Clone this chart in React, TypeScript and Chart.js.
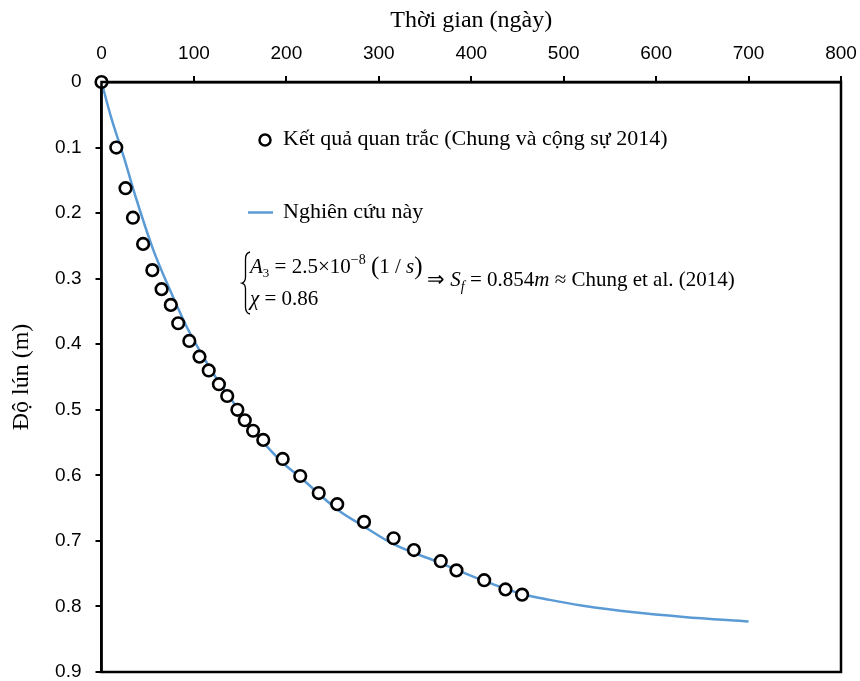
import React, { useEffect, useRef } from "react";
import { Chart, registerables } from "chart.js";

Chart.register(...registerables);

// Observed data (Chung et al. 2014)
const obsTime = [0, 16, 26, 34, 45, 55, 65, 75, 83, 95, 106, 116, 127, 136, 147, 155, 164, 175, 196, 215, 235, 255, 284, 316, 338, 367, 384, 414, 437, 455];
const obsSettle = [0, 0.1, 0.162, 0.207, 0.247, 0.287, 0.316, 0.34, 0.368, 0.395, 0.419, 0.44, 0.461, 0.479, 0.5, 0.516, 0.532, 0.546, 0.575, 0.601, 0.627, 0.644, 0.671, 0.696, 0.714, 0.731, 0.745, 0.76, 0.774, 0.782];

// This study (model curve)
const modelTime = [0, 10, 24, 38, 56, 74, 92, 110, 128, 146, 164, 193, 215, 255, 284, 316, 367, 414, 455, 485, 521, 576, 630, 700];
const modelSettle = [0, 0.052, 0.114, 0.18, 0.256, 0.317, 0.373, 0.419, 0.46, 0.495, 0.531, 0.577, 0.603, 0.652, 0.678, 0.705, 0.734, 0.761, 0.781, 0.79, 0.799, 0.809, 0.816, 0.823];

const xTicks = [0, 100, 200, 300, 400, 500, 600, 700, 800];
const yTicks = [0, 0.1, 0.2, 0.3, 0.4, 0.5, 0.6, 0.7, 0.8, 0.9];

const obsLabel = "Kết quả quan trắc (Chung và cộng sự 2014)";
const modelLabel = "Nghiên cứu này";
const xTitle = "Thời gian (ngày)";
const yTitle = "Độ lún (m)";

const SERIF = "'Liberation Serif', 'Times New Roman', serif";
const SANS = "'Liberation Sans', Arial, sans-serif";
const BLUE = "#5B9BD5";

type Run = { t: string; italic?: boolean; size?: number; dy?: number };

function drawRuns(ctx: CanvasRenderingContext2D, runs: Run[], x: number, y: number, base: number) {
  let cx = x;
  for (const r of runs) {
    const size = r.size ?? base;
    ctx.font = `${r.italic ? "italic " : ""}${size}px ${SERIF}`;
    ctx.fillText(r.t, cx, y + (r.dy ?? 0));
    cx += ctx.measureText(r.t).width;
  }
  return cx;
}

const overlayPlugin = {
  id: "overlay",
  afterDatasetsDraw(chart: any) {
    const { ctx, chartArea } = chart;
    ctx.save();
    ctx.strokeStyle = "#000";
    ctx.lineWidth = 2.5;
    ctx.strokeRect(chartArea.left, chartArea.top, chartArea.right - chartArea.left, chartArea.bottom - chartArea.top);
    ctx.restore();
  },
  afterDraw(chart: any) {
    const { ctx } = chart;
    ctx.save();
    ctx.fillStyle = "#000";
    ctx.textBaseline = "middle";
    // legend row 1
    ctx.beginPath();
    ctx.arc(265, 140, 5.5, 0, Math.PI * 2);
    ctx.fillStyle = "#fff";
    ctx.fill();
    ctx.lineWidth = 2.5;
    ctx.strokeStyle = "#000";
    ctx.stroke();
    ctx.fillStyle = "#000";
    ctx.font = `22px ${SERIF}`;
    ctx.fillText(obsLabel, 283, 139);
    // legend row 2
    ctx.beginPath();
    ctx.moveTo(248, 212.5);
    ctx.lineTo(273, 212.5);
    ctx.strokeStyle = BLUE;
    ctx.lineWidth = 2.5;
    ctx.stroke();
    ctx.fillText(modelLabel, 283, 212);

    // formula
    ctx.textBaseline = "alphabetic";
    ctx.beginPath();
    ctx.strokeStyle = "#000";
    ctx.lineWidth = 1.3;
    ctx.moveTo(250, 252);
    ctx.quadraticCurveTo(245.5, 253, 245.5, 259);
    ctx.lineTo(245.5, 277);
    ctx.quadraticCurveTo(245.5, 282, 242, 283);
    ctx.quadraticCurveTo(245.5, 284, 245.5, 289);
    ctx.lineTo(245.5, 307);
    ctx.quadraticCurveTo(245.5, 313, 250, 314);
    ctx.stroke();

    drawRuns(ctx, [
      { t: "A", italic: true },
      { t: "3", size: 13, dy: 4 },
      { t: " = 2.5×10" },
      { t: "−8", size: 14, dy: -9 },
      { t: " " },
      { t: "(", size: 25, dy: 1 },
      { t: "1 / " },
      { t: "s", italic: true },
      { t: ")", size: 25, dy: 1 },
    ], 250, 273, 21);
    drawRuns(ctx, [
      { t: "χ", italic: true },
      { t: " = 0.86" },
    ], 250, 305, 21);
    drawRuns(ctx, [
      { t: "⇒ " },
      { t: "S", italic: true },
      { t: "f", italic: true, size: 14, dy: 5 },
      { t: " = 0.854" },
      { t: "m", italic: true },
      { t: " ≈ Chung et al. (2014)" },
    ], 427, 286, 21);
    ctx.restore();
  },
};

export default function App() {
  const ref = useRef<HTMLCanvasElement | null>(null);
  useEffect(() => {
    document.body.style.margin = "0";
    const canvas = ref.current!;
    const chart = new Chart(canvas, {
      type: "scatter",
      data: {
        datasets: [
          {
            label: obsLabel,
            data: obsTime.map((t, i) => ({ x: t, y: obsSettle[i] })),
            showLine: false,
            pointStyle: "circle",
            pointRadius: 5.8,
            pointBorderWidth: 2.6,
            pointBorderColor: "#000",
            pointBackgroundColor: "#fff",
            clip: false as any,
            order: 0,
          },
          {
            label: modelLabel,
            data: modelTime.map((t, i) => ({ x: t, y: modelSettle[i] })),
            showLine: true,
            borderColor: BLUE,
            borderWidth: 2.5,
            pointRadius: 0,
            cubicInterpolationMode: "monotone",
            order: 1,
          } as any,
        ],
      },
      options: {
        responsive: false,
        animation: false,
        devicePixelRatio: 1,
        layout: { padding: { left: 0, right: 19, top: 0, bottom: 9 } },
        plugins: {
          legend: { display: false },
          tooltip: { enabled: false },
        },
        scales: {
          x: {
            type: "linear",
            position: "top",
            min: 0,
            max: 800,
            afterBuildTicks: (s: any) => { s.ticks = xTicks.map((v) => ({ value: v })); },
            ticks: {
              color: "#000",
              font: { family: SANS, size: 19 },
              padding: 11,
              callback: (v: any) => String(v),
            },
            grid: { drawOnChartArea: false, drawTicks: true, tickLength: 6, color: "#000", lineWidth: 2 },
            border: { display: true, color: "#000", width: 2.5 },
            title: { display: true, text: xTitle, color: "#000", font: { family: SERIF, size: 24 }, padding: { top: 6, bottom: 0 } },
            afterFit: (s: any) => {
              s.height = 82;
              s.paddingLeft = 0; s.paddingRight = 0; s.paddingTop = 0; s.paddingBottom = 0;
            },
          },
          y: {
            type: "linear",
            reverse: true,
            min: 0,
            max: 0.9,
            afterBuildTicks: (s: any) => { s.ticks = yTicks.map((v) => ({ value: v })); },
            ticks: {
              color: "#000",
              font: { family: SANS, size: 19 },
              padding: 14,
              callback: (v: any) => (v === 0 ? "0" : Number(v).toFixed(1)),
            },
            grid: { drawOnChartArea: false, drawTicks: true, tickLength: 6, color: "#000", lineWidth: 2 },
            border: { display: true, color: "#000", width: 2.5 },
            title: { display: true, text: yTitle, color: "#000", font: { family: SERIF, size: 24 }, padding: { top: 7, bottom: 0 } },
            afterFit: (s: any) => {
              s.width = 101.5;
              s.paddingLeft = 0; s.paddingRight = 0; s.paddingTop = 0; s.paddingBottom = 0;
            },
          },
        },
      },
      plugins: [overlayPlugin],
    });
    return () => chart.destroy();
  }, []);
  return (
    <div style={{ width: 860, height: 681, background: "#fff" }}>
      <canvas ref={ref} width={860} height={681} />
    </div>
  );
}
